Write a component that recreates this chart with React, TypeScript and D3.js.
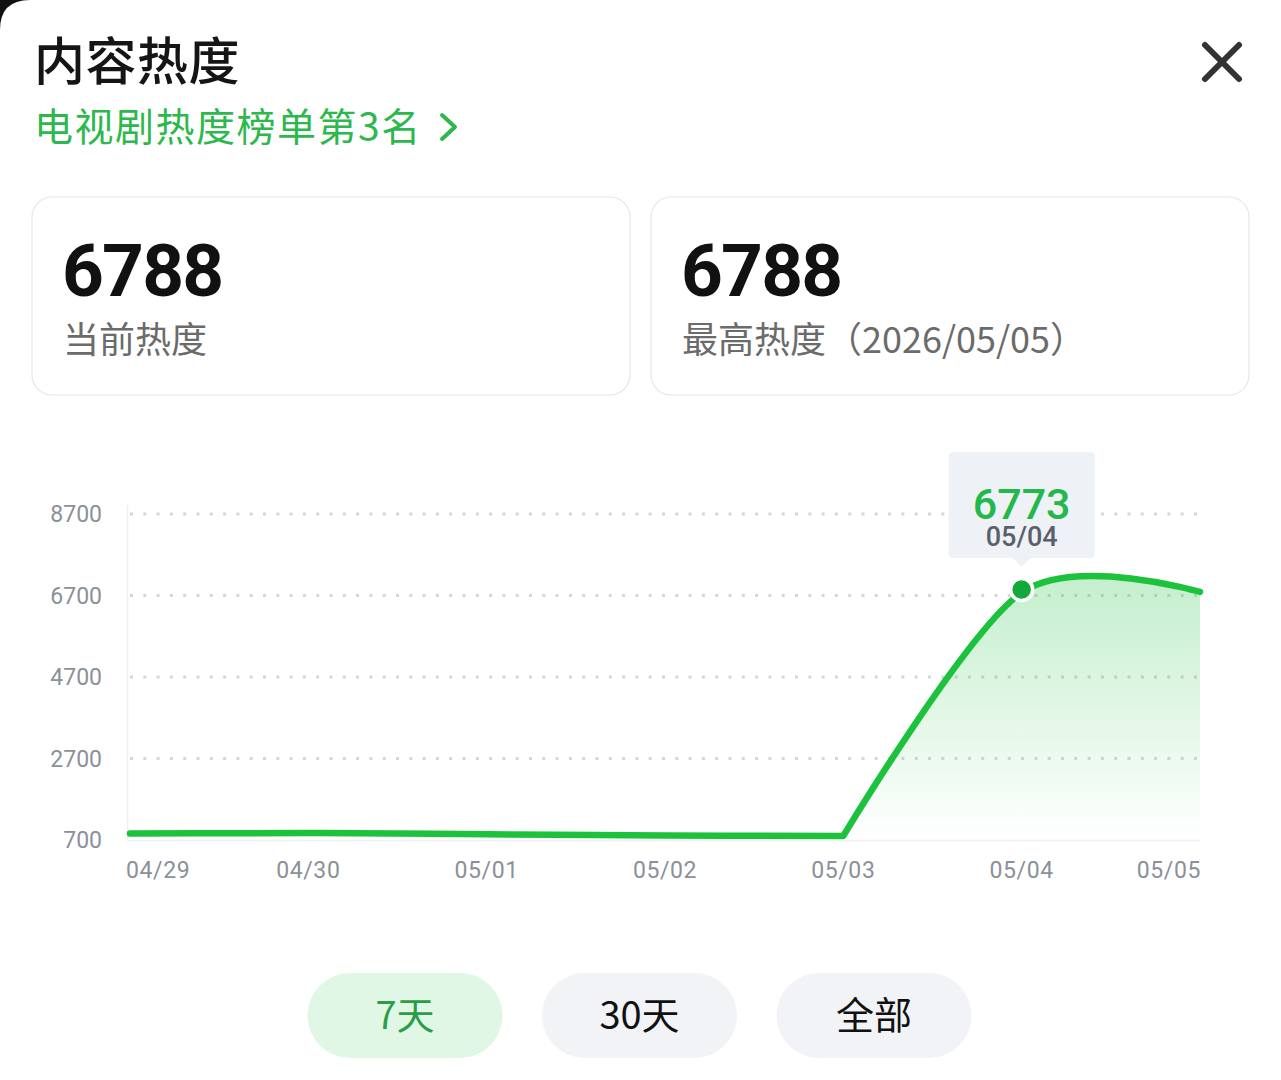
import React from 'react';
import * as d3 from 'd3';

const dates = ['04/29', '04/30', '05/01', '05/02', '05/03', '05/04', '05/05'];
const heatValues = [860, 870, 840, 810, 800, 6773, 6788];
const yTickValues = [700, 2700, 4700, 6700, 8700];
const rangeButtons = ['7天', '30天', '全部'];
const activeButton = 0;
const highlightIndex = 5;
const currentHeat = 6788;
const peakHeat = 6788;
const peakDate = '2026/05/05';
const rankText = '电视剧热度榜单第3名';

const W = 1281;
const H = 1080;
const CJK = '"Noto Sans CJK SC", "Noto Sans", sans-serif';
const NUM = 'Roboto, "Noto Sans", sans-serif';
const GREEN = '#1cc23c';

export default function App() {
  const xs = d3.scaleLinear().domain([0, dates.length - 1]).range([130, 1200]);
  const ys = d3.scaleLinear().domain([700, 8700]).range([840, 514]);
  const pts: [number, number][] = heatValues.map((v, i) => [xs(i), ys(v)]);
  const riseStart = 4;
  const flatPts = pts.slice(0, riseStart + 1);
  const risePts = pts.slice(riseStart);

  const flatLine = d3.line().curve(d3.curveMonotoneX)(flatPts) || '';
  const riseLine = d3.line().curve(d3.curveCardinal.tension(0.1))(risePts) || '';
  const fullLine = flatLine + riseLine.replace(/^M/, 'L');

  const areaGen = (c: any) =>
    d3
      .area<[number, number]>()
      .x((d) => d[0])
      .y0(ys(700))
      .y1((d) => d[1])
      .curve(c);
  const flatArea = areaGen(d3.curveMonotoneX)(flatPts) || '';
  const riseArea = areaGen(d3.curveCardinal.tension(0.1))(risePts) || '';

  const hx = xs(highlightIndex);
  const hy = ys(heatValues[highlightIndex]);
  const tipW = 146;
  const tipH = 106;
  const tipX = hx - tipW / 2;
  const tipY = 452;

  const btnX = d3.scalePoint<string>().domain(rangeButtons).range([405, 874]);

  return (
    <svg
      width={W}
      height={H}
      style={{ position: 'absolute', left: 0, top: 0, display: 'block' }}
      xmlns="http://www.w3.org/2000/svg"
    >
      <defs>
        <linearGradient id="areaGrad" gradientUnits="userSpaceOnUse" x1="0" y1="574" x2="0" y2="840">
          <stop offset="0" stopColor="#2cc44c" stopOpacity="0.28" />
          <stop offset="0.55" stopColor="#2cc44c" stopOpacity="0.13" />
          <stop offset="1" stopColor="#2cc44c" stopOpacity="0.0" />
        </linearGradient>
      </defs>
      <rect x={0} y={0} width={W} height={H} fill="#111" />
      <path d={`M0,30 Q0,0 30,0 L${W},0 L${W},${H} L0,${H} Z`} fill="#fff" />

      {/* header */}
      <text x={34} y={80} fontFamily={CJK} fontSize={51} fontWeight={500} letterSpacing={0.5} fill="#151515">
        内容热度
      </text>
      <text x={34} y={141} fontFamily={CJK} fontSize={39} letterSpacing={1.5} fill="#2db84d">
        {rankText}
      </text>
      <path d="M442,115 L455,127 L442,139" fill="none" stroke="#2db84d" strokeWidth={4} strokeLinecap="round" strokeLinejoin="round" />
      <g stroke="#333" strokeWidth={6} strokeLinecap="round">
        <line x1={1205} y1={45} x2={1239} y2={79} />
        <line x1={1239} y1={45} x2={1205} y2={79} />
      </g>

      {/* cards */}
      <rect x={32} y={197} width={598} height={198} rx={20} fill="#fff" stroke="#e6e6e6" strokeWidth={1.2} />
      <rect x={651} y={197} width={598} height={198} rx={20} fill="#fff" stroke="#e6e6e6" strokeWidth={1.2} />
      <text x={62} y={296} fontFamily={NUM} fontSize={73} fontWeight={700} letterSpacing={-1.8} fill="#111">
        {currentHeat}
      </text>
      <text x={63} y={353} fontFamily={CJK} fontSize={36} fill="#6b6b6b">
        当前热度
      </text>
      <text x={681} y={296} fontFamily={NUM} fontSize={73} fontWeight={700} letterSpacing={-1.8} fill="#111">
        {peakHeat}
      </text>
      <text x={682} y={353} fontFamily={CJK} fontSize={36} fill="#6b6b6b">
        {`最高热度（${peakDate}）`}
      </text>

      {/* axes frame */}
      <line x1={127.5} y1={505} x2={127.5} y2={840} stroke="#f0f0f0" strokeWidth={1.5} />
      <line x1={127} y1={840.5} x2={1200} y2={840.5} stroke="#f0f0f0" strokeWidth={1.5} />

      {/* grid */}
      {yTickValues.map((t) =>
        t === 700 ? null : (
          <line
            key={'g' + t}
            x1={130}
            x2={1200}
            y1={ys(t)}
            y2={ys(t)}
            stroke="#d6d6d6"
            strokeWidth={3}
            strokeDasharray="3 10.3"
          />
        )
      )}
      {yTickValues.map((t) => (
        <text
          key={'y' + t}
          x={102}
          y={ys(t)}
          dy="0.35em"
          textAnchor="end"
          fontFamily={NUM}
          fontSize={23}
          fill="#8b9099"
        >
          {t}
        </text>
      ))}
      {dates.map((d, i) => {
        const first = i === 0;
        const last = i === dates.length - 1;
        return (
          <text
            key={'x' + d}
            x={first ? xs(i) - 4 : last ? xs(i) + 1 : xs(i)}
            y={870}
            dy="0.35em"
            textAnchor={first ? 'start' : last ? 'end' : 'middle'}
            fontFamily={NUM}
            fontSize={23}
            letterSpacing={0.6}
            fill="#8b9099"
          >
            {d}
          </text>
        );
      })}

      {/* area + line */}
      <path d={flatArea} fill="url(#areaGrad)" />
      <path d={riseArea} fill="url(#areaGrad)" />
      <path d={fullLine} fill="none" stroke={GREEN} strokeWidth={6.5} strokeLinejoin="round" strokeLinecap="round" />

      {/* tooltip */}
      <rect x={tipX} y={tipY} width={tipW} height={tipH} rx={4} fill="#eef1f6" />
      <path d={`M${hx - 9},${tipY + tipH} L${hx},${tipY + tipH + 9} L${hx + 9},${tipY + tipH} Z`} fill="#eef1f6" />
      <text x={hx} y={519} textAnchor="middle" fontFamily={NUM} fontSize={43} fontWeight={500} fill="#22b84a">
        {heatValues[highlightIndex]}
      </text>
      <text x={hx} y={546} textAnchor="middle" fontFamily={NUM} fontSize={27} fontWeight={500} fill="#5a606b">
        {dates[highlightIndex]}
      </text>
      <circle cx={hx} cy={hy - 3} r={11} fill="#12a83a" stroke="#fff" strokeWidth={3.5} />

      {/* range buttons */}
      {rangeButtons.map((b, i) => {
        const cx = btnX(b) as number;
        const active = i === activeButton;
        return (
          <g key={b}>
            <rect x={cx - 97.5} y={973} width={195} height={85} rx={42.5} fill={active ? '#e0f7e5' : '#f2f3f7'} />
            <text
              x={cx}
              y={1016}
              dy="0.35em"
              textAnchor="middle"
              fontFamily={CJK}
              fontSize={38}
              fill={active ? '#2a9e47' : '#111'}
            >
              {b}
            </text>
          </g>
        );
      })}
    </svg>
  );
}
